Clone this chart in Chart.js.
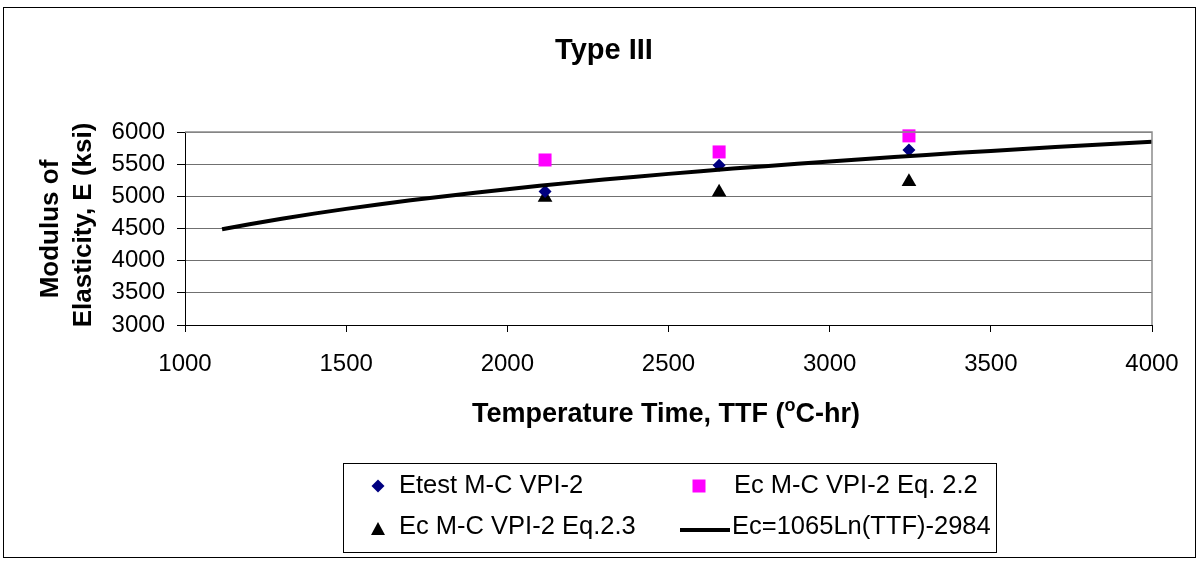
<!DOCTYPE html>
<html lang="en">
<head>
  <meta charset="UTF-8">
  <title>Type III</title>
  <style>
    html, body { margin: 0; padding: 0; background: #fff; }
    canvas { display: block; }
  </style>
</head>
<body>
  <canvas id="chart" width="1199" height="561"></canvas>

  <script src="https://cdn.jsdelivr.net/npm/chart.js"></script>
  <script>
    // data
    const ttfTest = [2117, 2657, 3246];
    const eTest = [5075, 5485, 5720];
    const eEq22 = [5565, 5690, 5940];
    const eEq23 = [4980, 5065, 5225];

    const fitTTF = [1115, 1200, 1300, 1400, 1500, 1600, 1700, 1800, 1900, 2000,
                    2100, 2200, 2300, 2400, 2500, 2600, 2700, 2800, 2900, 3000,
                    3100, 3200, 3300, 3400, 3500, 3600, 3700, 3800, 3900, 4000];
    const fitE = [4489, 4567, 4652, 4731, 4805, 4874, 4938, 4999, 5057, 5111,
                  5163, 5213, 5260, 5305, 5349, 5390, 5431, 5469, 5507, 5543,
                  5578, 5612, 5644, 5676, 5706, 5736, 5765, 5793, 5820, 5849];

    const seriesNames = ['Etest M-C VPI-2', 'Ec M-C VPI-2 Eq. 2.2', 'Ec M-C VPI-2 Eq.2.3', 'Ec=1065Ln(TTF)-2984'];
    const xRange = [1000, 4000, 500];
    const yRange = [3000, 6000, 500];

    const FONT = "'Liberation Sans', Arial, sans-serif";

    function pts(xs, ys) {
      return xs.map((x, i) => ({ x: x, y: ys[i] }));
    }

    // legend markers
    function drawMarker(ctx, kind, x, y) {
      ctx.save();
      ctx.beginPath();
      if (kind === 'diamond') {
        ctx.fillStyle = '#000080';
        ctx.moveTo(x, y - 6.5); ctx.lineTo(x + 6.5, y); ctx.lineTo(x, y + 6.5); ctx.lineTo(x - 6.5, y);
      } else if (kind === 'square') {
        ctx.fillStyle = '#ff00ff';
        ctx.rect(x - 6.5, y - 6.5, 13, 13);
      } else {
        ctx.fillStyle = '#000';
        ctx.moveTo(x, y - 7); ctx.lineTo(x + 7, y + 6); ctx.lineTo(x - 7, y + 6);
      }
      ctx.closePath();
      ctx.fill();
      ctx.restore();
    }

    const decorations = {
      id: 'decorations',
      beforeDraw(chart) {
        const ctx = chart.ctx;
        ctx.save();
        ctx.fillStyle = '#fff';
        ctx.fillRect(0, 0, chart.width, chart.height);
        ctx.strokeStyle = '#000';
        ctx.lineWidth = 1;
        ctx.strokeRect(3.5, 7.5, 1192, 550);
        ctx.restore();
      },
      afterDraw(chart) {
        const ctx = chart.ctx;
        const a = chart.chartArea;
        ctx.save();

        // plot area border top/right
        ctx.strokeStyle = '#8c8c8c';
        ctx.lineWidth = 1.5;
        ctx.beginPath();
        ctx.moveTo(a.left, a.top);
        ctx.lineTo(a.right, a.top);
        ctx.lineTo(a.right, a.bottom);
        ctx.stroke();

        ctx.fillStyle = '#000';

        // title
        ctx.font = 'bold 29px ' + FONT;
        ctx.textAlign = 'center';
        ctx.textBaseline = 'alphabetic';
        ctx.fillText('Type III', 604, 59);

        // x title with superscript o
        const p1 = 'Temperature Time, TTF (';
        const p2 = 'o';
        const p3 = 'C-hr)';
        ctx.textAlign = 'left';
        ctx.font = 'bold 27px ' + FONT;
        const w1 = ctx.measureText(p1).width;
        const w3 = ctx.measureText(p3).width;
        ctx.font = 'bold 18px ' + FONT;
        const w2 = ctx.measureText(p2).width;
        let x = 666 - (w1 + w2 + w3) / 2;
        ctx.font = 'bold 27px ' + FONT;
        ctx.fillText(p1, x, 422);
        x += w1;
        ctx.font = 'bold 18px ' + FONT;
        ctx.fillText(p2, x, 411);
        x += w2;
        ctx.font = 'bold 27px ' + FONT;
        ctx.fillText(p3, x, 422);

        // y title, two lines
        ctx.font = 'bold 26px ' + FONT;
        ctx.textAlign = 'center';
        ctx.save();
        ctx.translate(58, 229);
        ctx.rotate(-Math.PI / 2);
        ctx.fillText('Modulus of', 0, 0);
        ctx.restore();
        ctx.save();
        ctx.translate(91, 225);
        ctx.rotate(-Math.PI / 2);
        ctx.fillText('Elasticity, E (ksi)', 0, 0);
        ctx.restore();

        // legend box
        ctx.strokeStyle = '#000';
        ctx.lineWidth = 1;
        ctx.strokeRect(343.5, 463.5, 653, 89);
        ctx.font = '25.5px ' + FONT;
        ctx.textAlign = 'left';
        ctx.textBaseline = 'middle';
        drawMarker(ctx, 'diamond', 378, 486);
        ctx.fillText(seriesNames[0], 399, 486);
        drawMarker(ctx, 'square', 699, 486);
        ctx.fillText(seriesNames[1], 734, 486);
        drawMarker(ctx, 'triangle', 378, 529);
        ctx.fillText(seriesNames[2], 399, 527);
        ctx.lineWidth = 4;
        ctx.beginPath();
        ctx.moveTo(680, 530);
        ctx.lineTo(730, 530);
        ctx.stroke();
        ctx.fillText(seriesNames[3], 732, 527);

        ctx.restore();
      }
    };

    const plainTick = v => String(v);

    new Chart(document.getElementById('chart'), {
      type: 'scatter',
      data: {
        datasets: [
          {
            label: seriesNames[3],
            data: pts(fitTTF, fitE),
            showLine: true,
            borderColor: '#000',
            borderWidth: 4,
            pointRadius: 0,
            tension: 0,
            clip: false
          },
          {
            label: seriesNames[0],
            data: pts(ttfTest, eTest),
            pointStyle: 'rectRot',
            pointRadius: 6.5,
            backgroundColor: '#000080',
            borderColor: '#000080',
            borderWidth: 0,
            clip: false
          },
          {
            label: seriesNames[1],
            data: pts(ttfTest, eEq22),
            pointStyle: 'rect',
            pointRadius: 9.2,
            backgroundColor: '#ff00ff',
            borderColor: '#ff00ff',
            borderWidth: 0,
            clip: false
          },
          {
            label: seriesNames[2],
            data: pts(ttfTest, eEq23),
            pointStyle: 'triangle',
            pointRadius: 8.5,
            backgroundColor: '#000',
            borderColor: '#000',
            borderWidth: 0,
            clip: false
          }
        ]
      },
      options: {
        responsive: false,
        animation: false,
        devicePixelRatio: 1,
        layout: { padding: { left: 0, top: 132, right: 47, bottom: 0 } },
        plugins: {
          legend: { display: false },
          title: { display: false },
          tooltip: { enabled: false }
        },
        scales: {
          x: {
            type: 'linear',
            min: xRange[0],
            max: xRange[1],
            ticks: { stepSize: xRange[2], callback: plainTick, color: '#000', font: { family: FONT, size: 24 }, padding: 18, maxRotation: 0 },
            grid: { drawOnChartArea: false, drawTicks: true, tickLength: 7, tickColor: '#000' },
            border: { color: '#000', width: 1 },
            afterFit(s) { s.height = 236; }
          },
          y: {
            min: yRange[0],
            max: yRange[1],
            ticks: { stepSize: yRange[2], callback: plainTick, color: '#000', font: { family: FONT, size: 24 }, padding: 12 },
            grid: { color: '#707070', lineWidth: 1, drawTicks: true, tickLength: 8, tickColor: '#000' },
            border: { color: '#000', width: 1 },
            afterFit(s) { s.width = 185; }
          }
        }
      },
      plugins: [decorations]
    });
  </script>
</body>
</html>
